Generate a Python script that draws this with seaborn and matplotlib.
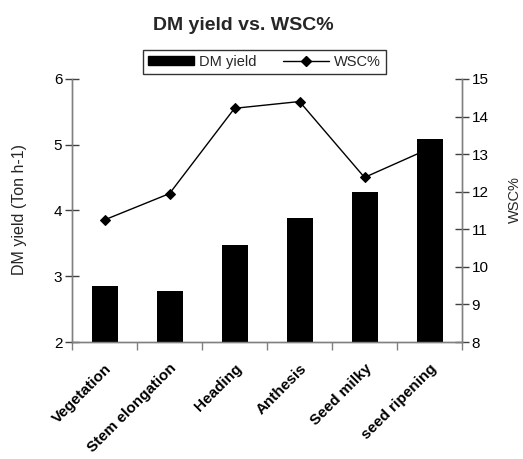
import numpy as np
import pandas as pd
import matplotlib
matplotlib.use("Agg")
import matplotlib.pyplot as plt
import matplotlib.transforms as mtransforms
import seaborn as sns
from matplotlib.patches import Patch
from matplotlib.lines import Line2D

stages = ["Vegetation", "Stem elongation", "Heading", "Anthesis", "Seed milky", "seed ripening"]
dm_yield = [2.85, 2.77, 3.47, 3.89, 4.28, 5.08]
wsc_pct = [11.25, 11.95, 14.22, 14.40, 12.38, 13.15]

sns.set_theme(style="white")
plt.rcParams["font.family"] = ["Liberation Sans", "DejaVu Sans"]

df = pd.DataFrame({"stage": stages, "dm": dm_yield, "wsc": wsc_pct, "pos": np.arange(len(stages))})

fig = plt.figure(figsize=(5.23, 4.59), dpi=100)
ax = fig.add_axes([0.1377, 0.2549, 0.7457, 0.5730])
ax2 = ax.twinx()

# bars sit in front of the WSC line
ax2.set_zorder(ax.get_zorder() - 1)
ax.patch.set_visible(False)

sns.barplot(data=df, x="stage", y="dm", color="black", width=0.4,
            saturation=1, ax=ax, edgecolor="black", linewidth=0)
sns.lineplot(data=df, x="pos", y="wsc", color="black", linewidth=1,
             marker="D", markersize=5.5, markeredgecolor="black", ax=ax2)

ax.set_xlim(-0.5, len(stages) - 0.5)
ax.set_ylim(2, 6)
ax2.set_ylim(8, 15)
ax.set_yticks([2, 3, 4, 5, 6])
ax2.set_yticks(range(8, 16))

axis_col = "#808080"
for a in (ax, ax2):
    a.spines["top"].set_visible(False)
    for s in ("left", "right", "bottom"):
        a.spines[s].set_color(axis_col)
        a.spines[s].set_linewidth(1)
    a.grid(False)

ax.tick_params(axis="y", which="major", direction="inout", length=10, width=1,
               color="#404040", labelsize=11, pad=2, left=True, labelcolor="black")
ax2.tick_params(axis="y", which="major", direction="inout", length=10, width=1,
                color="#404040", labelsize=11, pad=2, right=True, labelcolor="black")

# category labels under the bars, ticks on the category boundaries
ax.set_xticks(np.arange(len(stages)))
ax.set_xticklabels(stages, rotation=45, ha="right", va="top", rotation_mode="anchor",
                   fontweight="bold", fontsize=11)
shift = mtransforms.ScaledTranslation(-15 / 100, 0, fig.dpi_scale_trans)
for lab in ax.get_xticklabels():
    lab.set_transform(lab.get_transform() + shift)
ax.set_xticks(np.arange(-0.5, len(stages)), minor=True)
ax.tick_params(axis="x", which="major", length=0, pad=14, labelcolor="black")
ax.tick_params(axis="x", which="minor", direction="out", length=6, width=1,
               color=axis_col, bottom=True)
ax.set_xlabel("")
ax.set_ylabel("")
ax2.set_ylabel("")
ax2.set_xlabel("")

fig.text(0.038, 0.5425, "DM yield (Ton h-1)", rotation=90, ha="center", va="center",
         fontsize=11.5)
fig.text(0.985, 0.566, "WSC%", rotation=90, ha="center", va="center", fontsize=10.5)
fig.text(0.4646, 0.9455, "DM yield vs. WSC%", ha="center", va="center",
         fontsize=14, fontweight="bold")

handles = [Patch(facecolor="black", edgecolor="black", label="DM yield"),
           Line2D([0], [0], color="black", linewidth=1, marker="D", markersize=5,
                  label="WSC%")]
leg = fig.legend(handles=handles, ncol=2, loc="center", bbox_to_anchor=(0.505, 0.865),
                 frameon=True, fancybox=False, fontsize=10.5, handlelength=3.2,
                 handleheight=0.6, columnspacing=1.8, borderpad=0.35, handletextpad=0.3)
leg.get_frame().set_edgecolor("black")
leg.get_frame().set_linewidth(1)

fig.savefig("out.png", dpi=100)
